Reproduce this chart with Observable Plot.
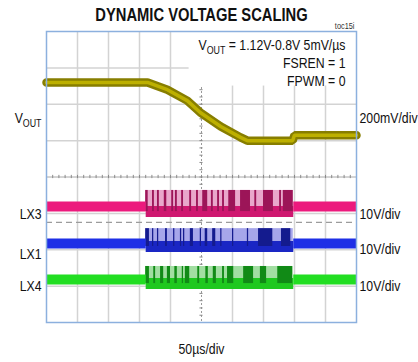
<!DOCTYPE html>
<html><head><meta charset="utf-8">
<script src="https://cdn.jsdelivr.net/npm/d3@7"></script>
<script src="https://cdn.jsdelivr.net/npm/@observablehq/plot@0.6"></script>
<style>
html,body{margin:0;padding:0;background:#fff;}
#chart{width:418px;height:362px;overflow:hidden;}
</style></head><body><div id="chart"></div>
<script>
// ---------------- data ----------------
const voutTimeUs = [0, 163, 195, 227, 248, 281, 313, 324, 397, 400, 500];
const voutVolts  = [1.12, 1.12, 1.08, 1.02, 0.955, 0.878, 0.818, 0.80, 0.80, 0.83, 0.83];

const channelNames = ["LX3", "LX1", "LX4"];
const lxIdleVolts  = [1.4, 0.8, 1.1];
const lxHighVolts  = [5.8, 4.9, 4.7];
const switchWindowUs = [160, 398];

const lx3DarkPulsesUs = [[160,164],[171,174],[179,182],[190,194],[202,205],[208,211],[218,221],[231,234],[242,245],[252,260],[266,269],[276,279],[284,287],[294,305],[313,329],[336,339],[350,366],[376,379],[382,398]];
const lx1DarkPulsesUs = [[160,166],[171,173],[179,181],[192,195],[205,207],[216,218],[221,223],[232,237],[248,250],[256,260],[268,273],[281,283],[300,302],[324,326],[342,365],[379,394]];
const lx4DarkPulsesUs = [[160,166],[173,176],[184,189],[195,200],[207,211],[219,221],[224,231],[244,247],[257,261],[269,274],[284,287],[292,302],[318,334],[345,355],[373,397]];

const gridTimeUs = [50, 100, 150, 200, 300, 350, 400, 450];
const centerTimeUs = 250;
const gridDivs = [1, 2, 3, 5, 6, 7];
const centerDiv = 4;

const titleText = "DYNAMIC VOLTAGE SCALING";
const figureId = "toc15i";
const conditionLines = ["VOUT = 1.12V-0.8V 5mV/µs", "FSREN = 1", "FPWM = 0"];
const leftLabels  = ["VOUT", "LX3", "LX1", "LX4"];
const rightLabels = ["200mV/div", "10V/div", "10V/div", "10V/div"];
const timeScaleLabel = "50µs/div";

// ---------------- layout / style ----------------
const W = 418, H = 362, ML = 46, MR = 62, MT = 31, MB = 40;
const VOUT_ZERO_DIV = 1.0, VOUT_V_PER_DIV = 0.2;
const LX_ZERO_DIV = [3.05, 2.09, 1.07], LX_V_PER_DIV = 10;
const LX_STYLE = [
  {idle: "#ec1a7d", low: "#cf1870", light: "#e9a7cb", dark: "#9c1558"},
  {idle: "#1e2fe6", low: "#1a26c4", light: "#a6a6ea", dark: "#141b8e"},
  {idle: "#22de22", low: "#1fc81f", light: "#a2dea2", dark: "#118a16"}
];
const leftLabelBaseline  = [122, 218, 258, 290];
const rightLabelBaseline = [122, 218, 253, 290];
const conditionBaseline  = [49, 67, 85];

function hasFont(name) {
  const c = document.createElement("canvas").getContext("2d");
  const s = "LX3 10V/div mmmWW";
  c.font = "40px monospace"; const a = c.measureText(s).width;
  c.font = `40px '${name}', monospace`; const b = c.measureText(s).width;
  return a !== b;
}
const narrow = hasFont("Liberation Sans Narrow");
const FONT = narrow ? "'Liberation Sans Narrow','Arial Narrow',sans-serif" : "'Liberation Sans',Arial,sans-serif";

const lxDiv = (i, v) => LX_ZERO_DIV[i] + v / LX_V_PER_DIV;
const voutDiv = v => VOUT_ZERO_DIV + v / VOUT_V_PER_DIV;
const vout = voutTimeUs.map((t, i) => ({t, v: voutVolts[i]}));
const pulses = [lx3DarkPulsesUs, lx1DarkPulsesUs, lx4DarkPulsesUs];
const [s0, s1] = switchWindowUs;

const lxMarks = channelNames.flatMap((name, i) => {
  const st = LX_STYLE[i];
  const idle = [
    {t: 0, v: lxIdleVolts[i], seg: "a"}, {t: s0, v: lxIdleVolts[i], seg: "a"},
    {t: s1, v: lxIdleVolts[i], seg: "b"}, {t: 500, v: lxIdleVolts[i], seg: "b"}
  ];
  const low = [{t: s0, v: 0}, {t: s1, v: 0}];
  return [
    Plot.rect([{a: s0, b: s1}], {x1: "a", x2: "b", y1: () => lxDiv(i, 0), y2: () => lxDiv(i, lxHighVolts[i]), fill: st.light}),
    Plot.line(low, {x: "t", y: d => lxDiv(i, d.v), stroke: st.low, strokeWidth: 11, strokeLinecap: "butt"}),
    Plot.rect(pulses[i], {x1: d => d[0], x2: d => d[1], y1: () => lxDiv(i, 0), y2: () => lxDiv(i, lxHighVolts[i]), fill: st.dark}),
    Plot.line(idle, {x: "t", y: d => lxDiv(i, d.v), z: "seg", stroke: st.idle, strokeWidth: 10, strokeLinecap: "butt"})
  ];
});

const minorT = d3.range(0, 501, 10);
const minorD = d3.range(0, 8.001, 0.2);

const plot = Plot.plot({
  width: W, height: H,
  marginLeft: ML, marginRight: MR, marginTop: MT, marginBottom: MB,
  x: {domain: [0, 500], axis: null},
  y: {domain: [0, 8], axis: null},
  style: {fontFamily: FONT, background: "#fff", color: "#000", overflow: "visible"},
  marks: [
    Plot.ruleX(gridTimeUs, {stroke: "#d3d3d3", strokeWidth: 1.5}),
    Plot.ruleY(gridDivs, {stroke: "#d3d3d3", strokeWidth: 1.5}),
    Plot.ruleX([centerTimeUs], {stroke: "#9a9a9a", strokeWidth: 1, strokeDasharray: "2,2"}),
    Plot.ruleY([centerDiv], {stroke: "#a8a8a8", strokeWidth: 1}),
    Plot.ruleX(minorT, {y1: centerDiv - 0.045, y2: centerDiv + 0.045, stroke: "#8a8a8a", strokeWidth: 1}),
    Plot.ruleY(minorD, {x1: centerTimeUs - 2.5, x2: centerTimeUs + 2.5, stroke: "#8a8a8a", strokeWidth: 1}),
    Plot.ruleY([2.75], {stroke: "#9c9c9c", strokeWidth: 1.3, strokeDasharray: "6,4"}),
    Plot.rect([{a: 230, b: 500, c: 6.5, d: 8}], {x1: "a", x2: "b", y1: "c", y2: "d", fill: "#fff"}),
    ...lxMarks,
    Plot.line(vout, {x: "t", y: d => voutDiv(d.v), stroke: "#877e00", strokeWidth: 8.5, strokeLinejoin: "miter"}),
    Plot.line(vout, {x: "t", y: d => voutDiv(d.v), stroke: "#bdb000", strokeWidth: 3.5, strokeLinejoin: "miter"}),
    Plot.frame({stroke: "#8cb0de", strokeWidth: 1.5}),
    Plot.text([titleText], {text: d => d, frameAnchor: "top", dy: 20 - MT, lineAnchor: "bottom", fontSize: 18, fontWeight: "bold", fill: "#111"}),
    Plot.text([figureId], {text: d => d, frameAnchor: "top-right", textAnchor: "end", dx: -2, dy: 28 - MT, lineAnchor: "bottom", fontSize: 9, fill: "#333"}),
    Plot.text(conditionLines, {text: d => d, frameAnchor: "top-right", textAnchor: "end", dx: -11, lineAnchor: "bottom", fontSize: 15, fill: "#111"}),
    Plot.text(leftLabels, {text: d => d, frameAnchor: "top-left", textAnchor: "end", dx: -5, lineAnchor: "bottom", fontSize: 15, fill: "#111"}),
    Plot.text(rightLabels, {text: d => d, frameAnchor: "top-right", textAnchor: "start", dx: 3, lineAnchor: "bottom", fontSize: 15, fill: "#111"}),
    Plot.text([timeScaleLabel], {text: d => d, frameAnchor: "bottom", dy: 353 - (H - MB), lineAnchor: "bottom", fontSize: 15, fill: "#111"})
  ]
});
document.getElementById("chart").appendChild(plot);

// vertical placement of stacked labels
function placeGroup(texts, baselines) {
  texts.forEach((t, i) => {
    if (!t) return;
    const tr = t.getAttribute("transform") || "";
    const m = tr.match(/translate\(([^,]+),([^)]+)\)/);
    if (m) t.setAttribute("transform", `translate(${m[1]},${baselines[i]})`);
  });
}
const allTexts = [...plot.querySelectorAll("text")];
const byContent = arr => arr.map((s, i) => allTexts.filter(t => t.textContent === s)[arr.slice(0, i).filter(x => x === s).length]);
placeGroup(byContent(conditionLines), conditionBaseline);
placeGroup(byContent(leftLabels), leftLabelBaseline);
placeGroup(byContent(rightLabels), rightLabelBaseline);

// subscript OUT
for (const t of allTexts) {
  const s = t.textContent;
  if (s.startsWith("VOUT")) {
    t.textContent = "";
    const ns = "http://www.w3.org/2000/svg";
    const a = document.createElementNS(ns, "tspan"); a.textContent = "V";
    const b = document.createElementNS(ns, "tspan"); b.textContent = "OUT"; b.setAttribute("font-size", "72%"); b.setAttribute("dy", "4");
    t.append(a, b);
    if (s.length > 4) {
      const c = document.createElementNS(ns, "tspan"); c.textContent = s.slice(4); c.setAttribute("dy", "-4");
      t.append(c);
    }
  }
}
// narrow (condensed) lettering like the reference: horizontal scale about each text's anchor
if (!narrow) {
  for (const t of allTexts) {
    const tr = t.getAttribute("transform") || "";
    t.setAttribute("transform", `${tr} scale(0.82,1)`);
  }
}
</script>
</body></html>
